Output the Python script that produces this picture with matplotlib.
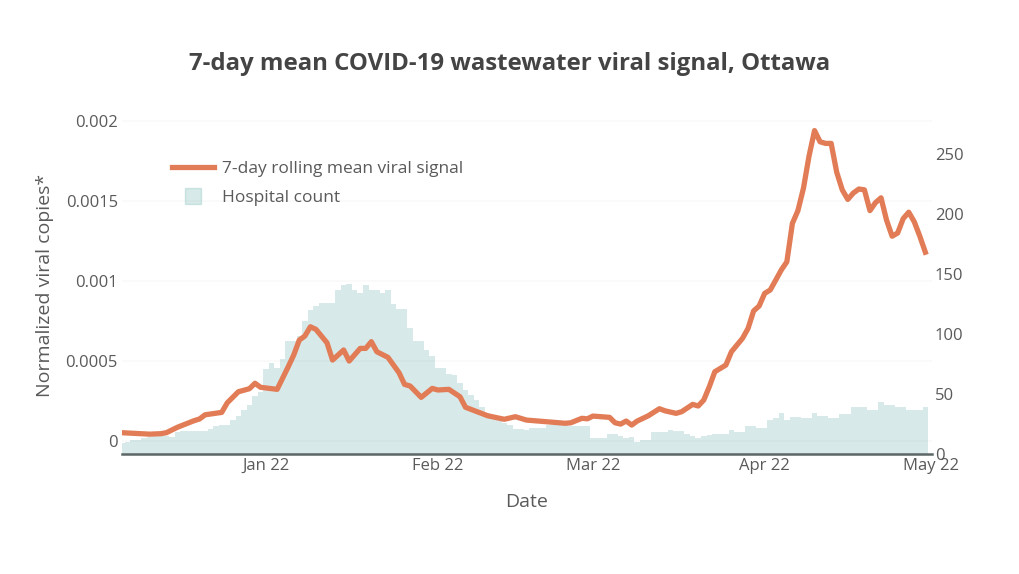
import pandas as pd
import matplotlib.pyplot as plt
import matplotlib.dates as mdates
from matplotlib.lines import Line2D

plt.rcParams['font.family'] = ['Open Sans', 'DejaVu Sans']

# 7-day rolling mean viral signal (normalized copies)
signal_dates = [
    '2021-12-06', '2021-12-11', '2021-12-13', '2021-12-14', '2021-12-16',
    '2021-12-19', '2021-12-20', '2021-12-21', '2021-12-24', '2021-12-25',
    '2021-12-27', '2021-12-29', '2021-12-30', '2021-12-31', '2022-01-03',
    '2022-01-05', '2022-01-06', '2022-01-07', '2022-01-08', '2022-01-09',
    '2022-01-10', '2022-01-12', '2022-01-13', '2022-01-15', '2022-01-16',
    '2022-01-18', '2022-01-19', '2022-01-20', '2022-01-21', '2022-01-23',
    '2022-01-25', '2022-01-26', '2022-01-27', '2022-01-29', '2022-01-31',
    '2022-02-01', '2022-02-03', '2022-02-05', '2022-02-06', '2022-02-10',
    '2022-02-13', '2022-02-15', '2022-02-17', '2022-02-24', '2022-02-25',
    '2022-02-27', '2022-02-28', '2022-03-01', '2022-03-04', '2022-03-05',
    '2022-03-06', '2022-03-07', '2022-03-08', '2022-03-09', '2022-03-11',
    '2022-03-13', '2022-03-14', '2022-03-16', '2022-03-17', '2022-03-19',
    '2022-03-20', '2022-03-21', '2022-03-22', '2022-03-23', '2022-03-25',
    '2022-03-26', '2022-03-28', '2022-03-29', '2022-03-30', '2022-03-31',
    '2022-04-01', '2022-04-02', '2022-04-03', '2022-04-04', '2022-04-05',
    '2022-04-06', '2022-04-07', '2022-04-08', '2022-04-09', '2022-04-10',
    '2022-04-11', '2022-04-12', '2022-04-13', '2022-04-14', '2022-04-15',
    '2022-04-16', '2022-04-17', '2022-04-18', '2022-04-19', '2022-04-20',
    '2022-04-21', '2022-04-22', '2022-04-23', '2022-04-24', '2022-04-25',
    '2022-04-26', '2022-04-27', '2022-04-28', '2022-04-29', '2022-04-30',
]
signal_values = [
    5.2e-5, 4.3e-5, 4.6e-5, 5.2e-5, 8.6e-5,
    1.27e-4, 1.38e-4, 1.64e-4, 1.79e-4, 2.39e-4,
    3.08e-4, 3.27e-4, 3.61e-4, 3.36e-4, 3.23e-4,
    4.64e-4, 5.38e-4, 6.31e-4, 6.56e-4, 7.14e-4,
    6.98e-4, 6.14e-4, 5.06e-4, 5.69e-4, 5.00e-4,
    5.79e-4, 5.79e-4, 6.21e-4, 5.58e-4, 5.23e-4,
    4.27e-4, 3.54e-4, 3.44e-4, 2.73e-4, 3.29e-4,
    3.19e-4, 3.23e-4, 2.77e-4, 2.11e-4, 1.58e-4,
    1.36e-4, 1.52e-4, 1.31e-4, 1.11e-4, 1.14e-4,
    1.42e-4, 1.39e-4, 1.56e-4, 1.48e-4, 1.14e-4,
    1.06e-4, 1.25e-4, 1.00e-4, 1.25e-4, 1.58e-4,
    2.02e-4, 1.89e-4, 1.73e-4, 1.83e-4, 2.29e-4,
    2.19e-4, 2.56e-4, 3.39e-4, 4.33e-4, 4.75e-4,
    5.58e-4, 6.42e-4, 7.04e-4, 8.13e-4, 8.44e-4,
    9.23e-4, 9.44e-4, 1.006e-3, 1.069e-3, 1.12e-3,
    1.36e-3, 1.44e-3, 1.58e-3, 1.78e-3, 1.94e-3,
    1.87e-3, 1.86e-3, 1.86e-3, 1.68e-3, 1.57e-3,
    1.51e-3, 1.55e-3, 1.575e-3, 1.57e-3, 1.44e-3,
    1.49e-3, 1.52e-3, 1.38e-3, 1.28e-3, 1.30e-3,
    1.39e-3, 1.43e-3, 1.37e-3, 1.28e-3, 1.18e-3,
]

# daily hospital count, one value per day from Dec 6 2021 to Apr 30 2022
hospital_start = '2021-12-06'
hospital_count = [
    9, 10, 12, 12, 13, 14, 15, 15, 15, 14,
    18, 19, 19, 19, 19, 19, 21, 23, 24, 24,
    28, 32, 37, 41, 48, 52, 71, 76, 72, 79,
    94, 94, 98, 111, 120, 123, 126, 126, 126, 137,
    141, 142, 137, 134, 141, 137, 137, 134, 137, 125,
    121, 121, 105, 94, 94, 87, 82, 72, 72, 67,
    66, 59, 53, 49, 45, 39, 34, 31, 31, 26,
    24, 21, 21, 20, 22, 22, 22, 24, 24, 24,
    24, 23, 23, 23, 23, 13, 13, 13, 17, 17,
    15, 13, 14, 10, 12, 12, 18, 18, 18, 20,
    19, 19, 17, 15, 13, 15, 16, 17, 17, 17,
    20, 18, 18, 23, 23, 22, 22, 28, 30, 34,
    28, 31, 31, 30, 30, 34, 32, 32, 30, 30,
    33, 33, 39, 39, 39, 37, 37, 43, 41, 41,
    39, 39, 37, 37, 37, 39,
]

left_ticks = [0, 0.0005, 0.001, 0.0015, 0.002]
left_labels = ['0', '0.0005', '0.001', '0.0015', '0.002']
right_ticks = [0, 50, 100, 150, 200, 250]
month_ticks = ['2022-01-01', '2022-02-01', '2022-03-01', '2022-04-01', '2022-05-01']

line_color = '#e27c56'
bar_color = '#70b5b0'
text_color = '#444444'
tick_color = '#5a5a5a'

signal_x = pd.to_datetime(signal_dates)
hospital_x = pd.date_range(hospital_start, periods=len(hospital_count), freq='D')

fig = plt.figure(figsize=(10.2, 5.74), dpi=100)
fig.subplots_adjust(left=122/1020, right=932/1020, bottom=1-454/574, top=1-105/574)
ax = fig.add_subplot(111)
ax2 = ax.twinx()

# bars on the right axis, kept underneath the line
ax.set_zorder(ax2.get_zorder() + 1)
ax.patch.set_visible(False)

ax2.bar(hospital_x, hospital_count, width=1.0, color=bar_color, alpha=0.28, linewidth=0)
ax.plot(signal_x, signal_values, color=line_color, lw=3.8, solid_joinstyle='round')

ax.set_ylim(-8.1e-5, 2.1e-3)
ax2.set_ylim(0, (454 - 105) / 1.2)
x0 = pd.Timestamp(hospital_start)
ax.set_xlim(x0, x0 + pd.Timedelta(days=146.2))

ax.set_yticks(left_ticks)
ax.set_yticklabels(left_labels)
ax2.set_yticks(right_ticks)
ax.set_xticks(pd.to_datetime(month_ticks))
ax.xaxis.set_major_formatter(mdates.DateFormatter('%b %y'))

# faint gridlines, only really visible through the bars
ax.grid(axis='y', color='black', alpha=0.025, lw=1.2)
ax.grid(axis='x', visible=False)

for a in (ax, ax2):
    for s in ('top', 'left', 'right', 'bottom'):
        a.spines[s].set_visible(False)
ax.spines['bottom'].set_visible(True)
ax.spines['bottom'].set_color('#5c6666')
ax.spines['bottom'].set_linewidth(1.8)

ax.tick_params(axis='y', length=0, pad=3, labelsize=12, labelcolor=tick_color)
ax2.tick_params(axis='y', length=0, pad=2, labelsize=12, labelcolor=tick_color)
ax.tick_params(axis='x', length=0, pad=3, labelsize=12, labelcolor=tick_color)

handles = [
    Line2D([0], [0], color=line_color, lw=3.8),
    Line2D([0], [0], color=bar_color, alpha=0.28, marker='s', markersize=11, linestyle='none'),
]
ax.legend(handles, ['7-day rolling mean viral signal', 'Hospital count'],
          loc='upper left', bbox_to_anchor=(0.053, 0.86), frameon=False,
          fontsize=12.5, handlelength=2.4, handletextpad=0.5, labelspacing=0.72,
          labelcolor=tick_color, borderaxespad=0)

fig.text(510/1020, 1-64/574, '7-day mean COVID-19 wastewater viral signal, Ottawa',
         ha='center', va='center', fontsize=17.3, fontweight='bold', color=text_color)
fig.text(45/1020, 1-285/574, 'Normalized viral copies*', rotation=90,
         ha='center', va='center', fontsize=14, color=tick_color)
fig.text(527/1020, 1-502/574, 'Date', ha='center', va='center', fontsize=14, color=tick_color)

fig.savefig('out.png', dpi=100)
